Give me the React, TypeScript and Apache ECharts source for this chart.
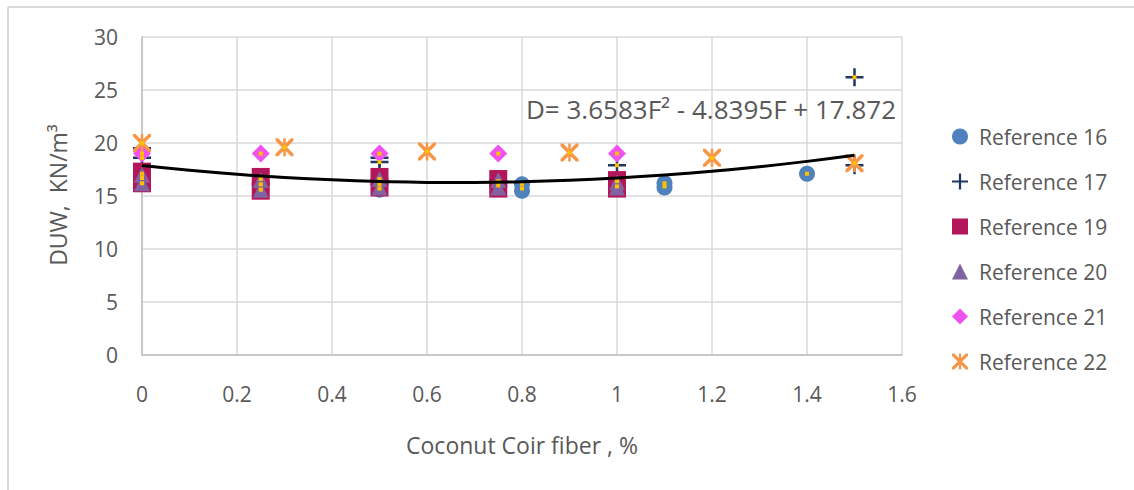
import React, { useEffect, useRef } from "react";
import * as echarts from "echarts";

// ---- data ----
const xTicks = [0, 0.2, 0.4, 0.6, 0.8, 1, 1.2, 1.4, 1.6];
const yTicks = [0, 5, 10, 15, 20, 25, 30];

const ref16: [number, number][] = [[0, 16.5], [0.5, 15.6], [0.8, 16.1], [0.8, 15.5], [1, 16.0], [1.1, 16.2], [1.1, 15.8], [1.4, 17.1]];
const ref17: [number, number][] = [[0, 19.5], [0, 18.6], [0.5, 18.6], [0.5, 18.2], [1, 17.9], [1.5, 26.2], [1.5, 17.9]];
const ref19: [number, number][] = [[0, 17.3], [0, 16.2], [0.25, 16.8], [0.25, 15.5], [0.5, 16.8], [0.5, 15.8], [0.75, 16.6], [0.75, 15.7], [1, 16.5], [1, 15.7]];
const ref20: [number, number][] = [[0, 17.0], [0, 16.2], [0.25, 16.5], [0.25, 15.6], [0.5, 16.6], [0.5, 15.8], [0.75, 16.5], [0.75, 15.8], [1, 16.3], [1, 15.8]];
const ref21: [number, number][] = [[0, 19.0], [0.25, 19.0], [0.5, 19.0], [0.75, 19.0], [1, 19.0]];
const ref22: [number, number][] = [[0, 20.0], [0.3, 19.6], [0.6, 19.2], [0.9, 19.1], [1.2, 18.6], [1.5, 18.1]];
// extra small yellow point marks seen inside the markers
const innerMarks: [number, number][] = [
  [0, 20.0], [0, 19.0], [0, 18.6], [0, 17.1], [0, 16.7], [0, 16.2],
  [0.25, 19.0], [0.25, 16.6], [0.25, 16.1], [0.25, 15.6], [0.3, 19.6],
  [0.5, 19.0], [0.5, 18.2], [0.5, 16.6], [0.5, 16.1], [0.5, 15.7],
  [0.6, 19.2], [0.75, 19.0], [0.75, 16.4], [0.75, 16.0], [0.8, 16.1], [0.8, 15.7],
  [0.9, 19.1], [1, 19.0], [1, 17.9], [1, 16.4], [1, 15.9], [1.1, 16.2], [1.1, 15.9],
  [1.2, 18.6], [1.4, 17.1], [1.5, 26.2], [1.5, 18.1],
];

// quadratic trend line as printed on the chart: D = a F^2 + b F + c
const trendA = 3.6583;
const trendB = -4.8395;
const trendC = 17.872;
const trendX = [0, 0.1, 0.2, 0.3, 0.4, 0.5, 0.6, 0.7, 0.8, 0.9, 1.0, 1.1, 1.2, 1.3, 1.4, 1.5];

const seriesNames = ["Reference 16", "Reference 17", "Reference 19", "Reference 20", "Reference 21", "Reference 22"];
const xTitle = "Coconut Coir fiber , %";
const yTitle = "DUW,  KN/m³";
const equation = "D= 3.6583F² - 4.8395F + 17.872";

const PLUS = "path://M0,4.3h10v1.4h-10z M4.3,0h1.4v10h-1.4z";
const STAR = "path://M0,0L1.4,0L10,8.6L10,10L8.6,10L0,1.4Z M8.6,0L10,0L10,1.4L1.4,10L0,10L0,8.6Z M4.3,0h1.4v10h-1.4z";

const FONT = "Open Sans";
const TXT = "#595959";

export default function App() {
  const ref = useRef<HTMLDivElement>(null);
  useEffect(() => {
    document.body.style.margin = "0";
    const chart = echarts.init(ref.current!, null, { renderer: "svg" });
    const trend = trendX.map((x) => [x, trendA * x * x + trendB * x + trendC]);
    chart.setOption({
      animation: false,
      textStyle: { fontFamily: FONT },
      grid: { left: 142, right: 232, top: 37, bottom: 135 },
      xAxis: {
        type: "value",
        min: 0,
        max: 1.6,
        interval: 0.2,
        name: xTitle,
        nameLocation: "middle",
        nameGap: 78,
        nameTextStyle: { fontSize: 23, color: TXT, fontFamily: FONT },
        axisLine: { show: true, lineStyle: { color: "#bfbfbf", width: 1.5 } },
        axisTick: { show: false },
        splitLine: { show: true, lineStyle: { color: "#d9d9d9", width: 1.5 } },
        axisLabel: {
          fontSize: 21, color: TXT, margin: 28, fontFamily: FONT,
          formatter: (v: number) => {
            const hit = xTicks.find((t) => Math.abs(t - v) < 1e-9);
            return hit === undefined ? "" : String(hit);
          },
        },
      },
      yAxis: {
        type: "value",
        min: 0,
        max: 30,
        interval: 5,
        axisLine: { show: true, lineStyle: { color: "#bfbfbf", width: 1.5 } },
        axisTick: { show: false },
        splitLine: { show: true, lineStyle: { color: "#d9d9d9", width: 1.5 } },
        axisLabel: {
          fontSize: 21, color: TXT, margin: 24, fontFamily: FONT,
          formatter: (v: number) => {
            const hit = yTicks.find((t) => Math.abs(t - v) < 1e-9);
            return hit === undefined ? "" : String(hit);
          },
        },
      },
      legend: {
        orient: "vertical",
        left: 947,
        top: 121,
        itemGap: 24,
        itemWidth: 16,
        itemHeight: 16,
        data: seriesNames,
        textStyle: { fontSize: 21, color: TXT, fontFamily: FONT, padding: [0, 0, 0, 6] },
      },
      graphic: [
        { type: "line", shape: { x1: 8, y1: 7, x2: 1134, y2: 7 }, style: { stroke: "#d9d9d9", lineWidth: 2 } },
        { type: "line", shape: { x1: 8, y1: 7, x2: 8, y2: 490 }, style: { stroke: "#d9d9d9", lineWidth: 2 } },
        {
          type: "text", x: 58, y: 195, rotation: Math.PI / 2,
          style: { text: yTitle, fontSize: 23, fill: TXT, fontFamily: FONT, align: "center", verticalAlign: "middle" },
        },
        {
          type: "text", left: 526, top: 96, z: 100,
          style: { text: equation, fontSize: 26, fill: TXT, fontFamily: FONT },
        },
      ],
      series: [
        { name: "Reference 16", type: "scatter", data: ref16, symbol: "circle", symbolSize: 16, itemStyle: { color: "#4f81bd", opacity: 1 } },
        { name: "Reference 17", type: "scatter", data: ref17, symbol: PLUS, symbolSize: 18, itemStyle: { color: "#1f3864", opacity: 1 } },
        { name: "Reference 19", type: "scatter", data: ref19, symbol: "rect", symbolSize: 18, itemStyle: { color: "#b3175a", opacity: 1 } },
        { name: "Reference 20", type: "scatter", data: ref20, symbol: "triangle", symbolSize: 16, itemStyle: { color: "#8064a2", opacity: 1 } },
        { name: "Reference 21", type: "scatter", data: ref21, symbol: "diamond", symbolSize: 18, itemStyle: { color: "#ef52ef", opacity: 1 } },
        { name: "Reference 22", type: "scatter", data: ref22, symbol: STAR, symbolSize: 18, itemStyle: { color: "#f79646", opacity: 1 } },
        { name: "marks", type: "scatter", data: innerMarks, symbol: "rect", symbolSize: [4, 4], itemStyle: { color: "#ffc000", opacity: 1 }, z: 3 },
        {
          name: "trend", type: "line", data: trend, smooth: true, showSymbol: false, symbol: "none",
          lineStyle: { color: "#000000", width: 3 }, z: 4,
        },
      ],
    });
    return () => chart.dispose();
  }, []);
  return <div ref={ref} style={{ width: 1134, height: 490 }} />;
}
